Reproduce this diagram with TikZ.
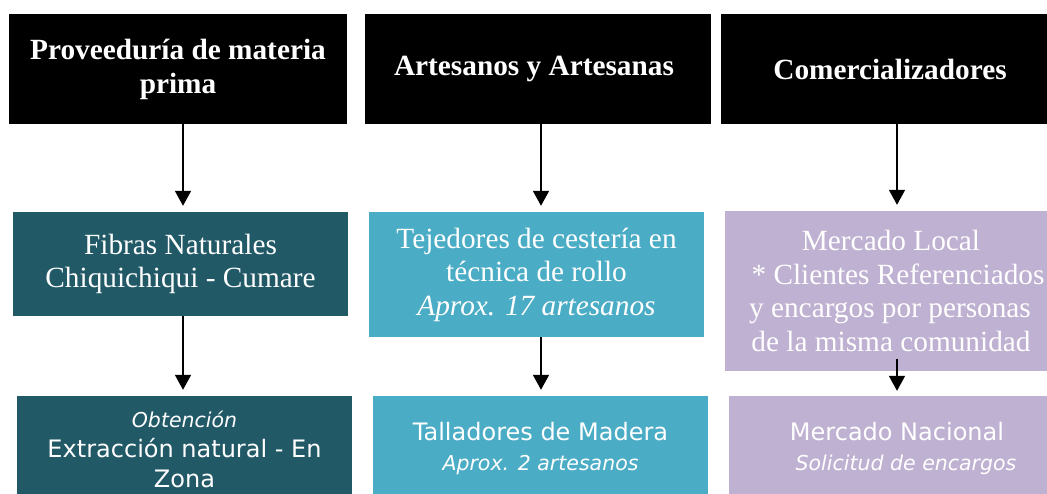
\documentclass[tikz,border=0pt]{standalone}
\usepackage{fontspec}
\setmainfont{Liberation Serif}
\newfontfamily\sansf{DejaVu Sans}
\usetikzlibrary{arrows.meta}
\definecolor{darkteal}{HTML}{215967}
\definecolor{cyanbox}{HTML}{4BACC6}
\definecolor{lavbox}{HTML}{BFB1D1}
\tikzset{
  hdr/.style={fill=black,text=white,inner sep=0pt,align=center,font=\fontsize{29.3}{34}\selectfont\bfseries},
  midbox/.style={inner sep=0pt,align=center,text=white,font=\fontsize{29.3}{33.5}\selectfont},
  botbox/.style={inner sep=0pt,align=center,text=white,font=\sansf\fontsize{24}{30}\selectfont},
  arr/.style={line width=1.8pt,-{Triangle[width=16pt,length=15pt]}}
}
\newcommand{\smit}{\fontsize{20.5}{28}\selectfont\itshape}
\begin{document}
\begin{tikzpicture}[x=1pt,y=-1pt]
\useasboundingbox (0,0) rectangle (1047,494);
% headers
\node[hdr,minimum width=338pt,minimum height=110pt] (T1) at (178,69) {Proveeduría de materia\\prima};
\node[hdr,minimum width=346pt,minimum height=110pt] (T2) at (538,69) {Artesanos y Artesanas\hspace*{8pt}};
\node[hdr,minimum width=326pt,minimum height=110pt] (T3) at (884,69) {\hspace*{12pt}Comercializadores};
% middle row
\node[midbox,fill=darkteal,minimum width=335pt,minimum height=104pt] (M1) at (180.5,264) {Fibras Naturales\\Chiquichiqui - Cumare};
\node[midbox,fill=cyanbox,minimum width=335pt,minimum height=125pt] (M2) at (536.5,274.5) {Tejedores de cestería en\\técnica de rollo\\\textit{Aprox. 17 artesanos}};
\node[midbox,fill=lavbox,minimum width=322pt,minimum height=160pt] (M3) at (886,291) {\hspace*{10pt}Mercado Local\\\hspace*{24pt}* Clientes Referenciados\\\hspace*{8pt}y encargos por personas\\\hspace*{10pt}de la misma comunidad};
% bottom row (boxes run past the lower edge)
\node[botbox,fill=darkteal,minimum width=335pt,minimum height=106pt] (B1) at (184.5,449) {{\smit Obtención}\\Extracción natural - En\\Zona};
\node[botbox,fill=cyanbox,minimum width=335pt,minimum height=106pt] (B2) at (540.5,449) {Talladores de Madera\\{\smit Aprox. 2 artesanos}};
\node[botbox,fill=lavbox,minimum width=318pt,minimum height=106pt] (B3) at (888,449) {\hspace*{18pt}Mercado Nacional\\{\smit \hspace*{36pt}Solicitud de encargos}};
% arrow columns
\coordinate (c1) at (183,0);
\coordinate (c2) at (541,0);
\coordinate (c3) at (897,0);
\draw[arr,shorten >=6pt] (T1.south -| c1) -- (M1.north -| c1);
\draw[arr,shorten >=6pt] (T2.south -| c2) -- (M2.north -| c2);
\draw[arr,shorten >=6pt] (T3.south -| c3) -- (M3.north -| c3);
\draw[arr,shorten >=6pt] (M1.south -| c1) -- (B1.north -| c1);
\draw[arr,shorten >=6pt] (M2.south -| c2) -- (B2.north -| c2);
\draw[arr,shorten >=5pt,shorten <=-12pt] (M3.south -| c3) -- (B3.north -| c3);
\end{tikzpicture}
\end{document}
